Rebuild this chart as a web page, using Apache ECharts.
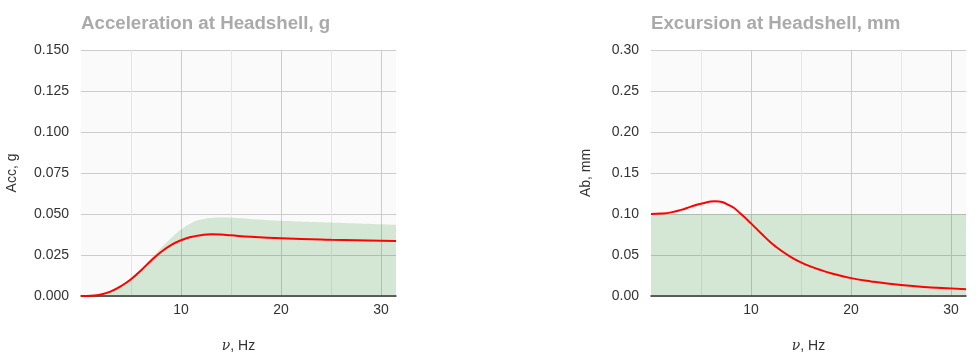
<!DOCTYPE html>
<html>
<head>
<meta charset="utf-8">
<script src="https://cdn.jsdelivr.net/npm/echarts@6/dist/echarts.min.js"></script>
<style>
html,body{margin:0;padding:0;background:#fff;}
#c{width:980px;height:358px;}
</style>
</head>
<body>
<div id="c"></div>
<script>
// ---- data ----
var accTitle = 'Acceleration at Headshell, g';
var excTitle = 'Excursion at Headshell, mm';
var accYName = 'Acc, g';
var excYName = 'Ab, mm';

var accFreq = [0, 1, 2, 3, 4, 5, 6, 7, 8, 9, 10, 11, 12, 13, 14, 15, 17, 20, 25, 30, 31.5];
var accVal  = [0, 0.0002, 0.0009, 0.0028, 0.006, 0.0102, 0.0156, 0.0215, 0.0268, 0.0310, 0.0340, 0.0360, 0.0371, 0.0376, 0.0375, 0.0370, 0.0361, 0.0352, 0.0343, 0.0337, 0.0335];

var accBandFreq = [0, 1, 2, 3, 4, 5, 6, 7, 8, 9, 10, 11, 12, 13, 14, 15, 17, 20, 25, 30, 31.5];
var accBandVal  = [0, 0.0004, 0.0016, 0.0036, 0.0068, 0.011, 0.0165, 0.0228, 0.0292, 0.0352, 0.0405, 0.0444, 0.0466, 0.0476, 0.0478, 0.0477, 0.0470, 0.0459, 0.0448, 0.0437, 0.0433];

var excFreq = [0, 1, 2, 3, 4, 5, 6.4, 8, 9, 10, 11, 12, 13, 14, 15, 16, 17, 18, 20, 22, 25, 28, 30, 31.5];
var excVal  = [0.100, 0.1005, 0.102, 0.105, 0.109, 0.1125, 0.1155, 0.1095, 0.100, 0.0886, 0.0765, 0.0650, 0.0555, 0.0475, 0.0410, 0.0358, 0.0315, 0.0278, 0.0218, 0.0178, 0.0134, 0.0105, 0.0093, 0.0082];

var excBandFreq = [0, 31.5];
var excBandVal  = [0.1, 0.1];

function pairs(xs, ys){ return xs.map(function(x,i){ return [x, ys[i]]; }); }

var labelColor = '#333';
var font = 'Liberation Sans, Arial, sans-serif';

function majorX(gi){
  return {
    type:'value', gridIndex:gi, min:0, max:31.5, interval:10, z:2,
    axisLine:{show:true, onZero:false, lineStyle:{color:'#333', width:1.5}},
    axisTick:{show:false},
    axisLabel:{color:labelColor, fontSize:14, fontFamily:font, margin:7,
      formatter:function(v){ return (v===0||v===31.5)?'':String(v); }},
    splitLine:{show:true, showMinLine:false, showMaxLine:false, lineStyle:{color:'#cccccc', width:1}},
    name:'{i|ν}, Hz', nameLocation:'middle', nameGap:43,
    nameTextStyle:{color:labelColor, fontSize:14, fontFamily:font,
      rich:{i:{fontStyle:'italic', fontFamily:'DejaVu Serif, serif', fontSize:14, color:labelColor}}}
  };
}
function minorX(gi){
  return {
    type:'value', gridIndex:gi, min:0, max:31.5, interval:5, z:1, position:'bottom',
    axisLine:{show:false}, axisTick:{show:false}, axisLabel:{show:false},
    splitLine:{show:true, showMinLine:false, showMaxLine:false, lineStyle:{color:'#e6e6e6', width:1}}
  };
}
function yAx(gi, max, interval, dec, name, gap){
  return {
    type:'value', gridIndex:gi, min:0, max:max, interval:interval,
    axisLine:{show:false}, axisTick:{show:false},
    axisLabel:{color:labelColor, fontSize:14, fontFamily:font, margin:12,
      formatter:function(v){ return v.toFixed(dec); }},
    splitLine:{show:true, lineStyle:{color:'#cccccc', width:1}},
    name:name, nameLocation:'middle', nameGap:gap, nameRotate:90,
    nameTextStyle:{color:labelColor, fontSize:14, fontFamily:font}
  };
}

var chart = echarts.init(document.getElementById('c'), null, {renderer:'canvas'});
chart.setOption({
  animation:false,
  backgroundColor:'#ffffff',
  title:[
    {text:accTitle, left:76, top:9, textStyle:{color:'#aaaaaa', fontSize:18.7, fontWeight:'bold', fontFamily:font}},
    {text:excTitle, left:646, top:9, textStyle:{color:'#aaaaaa', fontSize:18.7, fontWeight:'bold', fontFamily:font}}
  ],
  grid:[
    {left:81, top:50, width:315, height:246, show:true, backgroundColor:'#fafafa', borderWidth:0},
    {left:651, top:50, width:315, height:246, show:true, backgroundColor:'#fafafa', borderWidth:0}
  ],
  xAxis:[majorX(0), minorX(0), majorX(1), minorX(1)],
  yAxis:[yAx(0, 0.15, 0.025, 3, accYName, 62), yAx(1, 0.30, 0.05, 2, excYName, 58)],
  series:[
    {type:'line', xAxisIndex:0, yAxisIndex:0, data:pairs(accBandFreq, accBandVal), smooth:true,
      showSymbol:false, lineStyle:{width:0}, areaStyle:{color:'rgb(0,128,0)', opacity:0.15}, z:2},
    {type:'line', xAxisIndex:0, yAxisIndex:0, data:pairs(accFreq, accVal), smooth:true,
      showSymbol:false, lineStyle:{color:'#ff0000', width:2}, z:3},
    {type:'line', xAxisIndex:2, yAxisIndex:1, data:pairs(excBandFreq, excBandVal),
      showSymbol:false, lineStyle:{width:0}, areaStyle:{color:'rgb(0,128,0)', opacity:0.15}, z:2},
    {type:'line', xAxisIndex:2, yAxisIndex:1, data:pairs(excFreq, excVal), smooth:true,
      showSymbol:false, lineStyle:{color:'#ff0000', width:2}, z:3}
  ]
});
</script>
</body>
</html>
